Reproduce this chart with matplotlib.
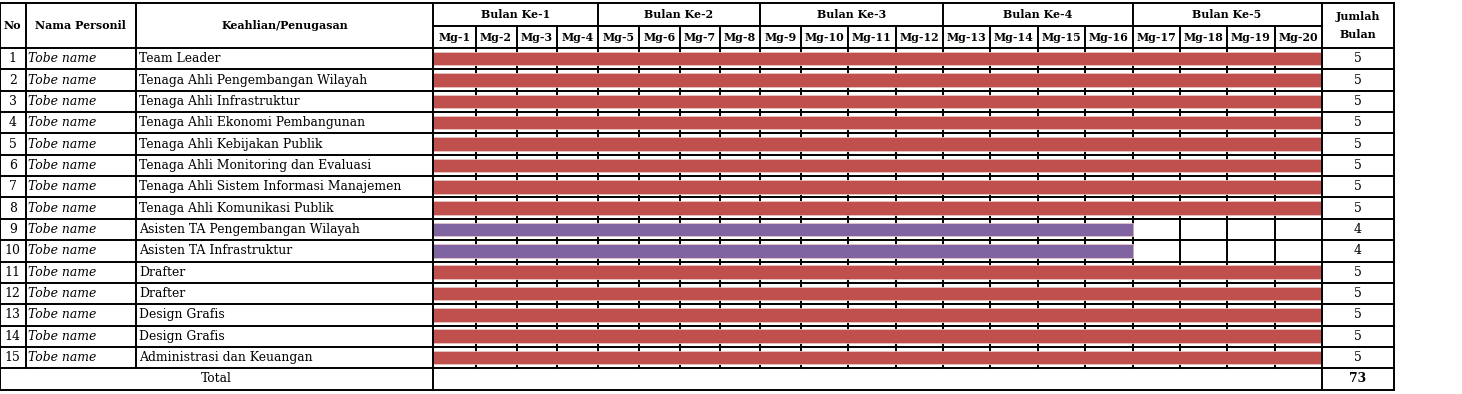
import matplotlib
matplotlib.use('Agg')
import matplotlib.pyplot as plt

# data
months = ['Bulan Ke-1', 'Bulan Ke-2', 'Bulan Ke-3', 'Bulan Ke-4', 'Bulan Ke-5']
weeks = ['Mg-%d' % i for i in range(1, 21)]
nomor = list(range(1, 16))
nama = ['Tobe name'] * 15
keahlian = ['Team Leader',
            'Tenaga Ahli Pengembangan Wilayah',
            'Tenaga Ahli Infrastruktur',
            'Tenaga Ahli Ekonomi Pembangunan',
            'Tenaga Ahli Kebijakan Publik',
            'Tenaga Ahli Monitoring dan Evaluasi',
            'Tenaga Ahli Sistem Informasi Manajemen',
            'Tenaga Ahli Komunikasi Publik',
            'Asisten TA Pengembangan Wilayah',
            'Asisten TA Infrastruktur',
            'Drafter',
            'Drafter',
            'Design Grafis',
            'Design Grafis',
            'Administrasi dan Keuangan']
start_week = [1] * 15
end_week = [20, 20, 20, 20, 20, 20, 20, 20, 16, 16, 20, 20, 20, 20, 20]
jumlah_bulan = [5, 5, 5, 5, 5, 5, 5, 5, 4, 4, 5, 5, 5, 5, 5]
total = 73

# layout (pixels)
W, H = 1462, 394
col_no, col_nama, col_keahlian, col_weeks = 0, 25.5, 136, 433
week_edges = [433, 475.5, 516.5, 557, 597.5, 639, 679.5, 719.5, 760, 800.5,
              848, 895.5, 942.5, 990, 1037.5, 1085, 1132.5, 1179.5, 1227, 1274.5, 1321.5]
col_end = 1394
y_top, y_mid, y_head = 3, 25.5, 48
row_h = 21.35
n = len(keahlian)
y_total = y_head + n * row_h
y_bottom = y_total + row_h

red = '#C0504D'
purple = '#8064A2'
lw = 1.4
fs = 8.9
fs_head = 7.9
serif = ['DejaVu Serif']
body = dict(fontsize=fs, family=serif, va='center')

fig = plt.figure(figsize=(W / 100, H / 100), dpi=100)
ax = fig.add_axes([0, 0, 1, 1])
ax.set_xlim(0, W)
ax.set_ylim(H, 0)
ax.axis('off')

def hline(y, x0, x1):
    ax.plot([x0, x1], [y, y], color='black', lw=lw, solid_capstyle='projecting', zorder=3)

def vline(x, y0, y1, z=1):
    ax.plot([x, x], [y0, y1], color='black', lw=lw, solid_capstyle='projecting', zorder=z)

# horizontal lines
hline(y_top, col_no, col_end)
hline(y_mid, col_weeks, week_edges[-1])
for i in range(n + 2):
    hline(y_head + i * row_h, col_no, col_end)

# vertical lines
vline(col_no, y_top, y_bottom, 3)
vline(col_nama, y_top, y_total, 3)
vline(col_keahlian, y_top, y_total, 3)
vline(col_weeks, y_top, y_bottom, 3)
vline(week_edges[-1], y_top, y_bottom, 3)
vline(col_end, y_top, y_bottom, 3)
for k in range(1, 20):
    if k % 4 == 0:
        vline(week_edges[k], y_top, y_total)
    else:
        vline(week_edges[k], y_mid, y_total)

# header text
hb = dict(fontsize=fs_head, fontweight='bold', family=serif, ha='center', va='center')
ax.text((col_no + col_nama) / 2, (y_top + y_head) / 2, 'No', **hb)
ax.text((col_nama + col_keahlian) / 2, (y_top + y_head) / 2, 'Nama Personil', **hb)
ax.text((col_keahlian + col_weeks) / 2, (y_top + y_head) / 2, 'Keahlian/Penugasan', **hb)
ax.text((week_edges[-1] + col_end) / 2, (y_top + y_head) / 2, 'Jumlah\nBulan', linespacing=1.75, **hb)
for m, label in enumerate(months):
    ax.text((week_edges[4 * m] + week_edges[4 * m + 4]) / 2, (y_top + y_mid) / 2, label, **hb)
for k, label in enumerate(weeks):
    ax.text((week_edges[k] + week_edges[k + 1]) / 2, (y_mid + y_head) / 2 + 0.5, label, **hb)

# body
for i in range(n):
    yc = y_head + (i + 0.5) * row_h
    ax.text((col_no + col_nama) / 2, yc, str(nomor[i]), ha='center', **body)
    ax.text(col_nama + 3, yc, nama[i], style='italic', ha='left', **body)
    ax.text(col_keahlian + 3, yc, keahlian[i], ha='left', **body)
    ax.text((week_edges[-1] + col_end) / 2, yc, str(jumlah_bulan[i]), ha='center', **body)

# bars
for i in range(n):
    yc = y_head + (i + 0.5) * row_h
    x0 = week_edges[start_week[i] - 1]
    x1 = week_edges[end_week[i]]
    c = red if end_week[i] == 20 else purple
    ax.barh(yc, x1 - x0, left=x0, height=row_h * 0.63, color=c,
            edgecolor='#E8C4C3', linewidth=0.6, zorder=2)

ax.text((col_no + col_weeks) / 2, y_total + row_h / 2, 'Total', ha='center', **body)
ax.text((week_edges[-1] + col_end) / 2, y_total + row_h / 2, str(total),
        fontweight='bold', ha='center', **body)

fig.savefig('out.png', dpi=100, facecolor='white')
